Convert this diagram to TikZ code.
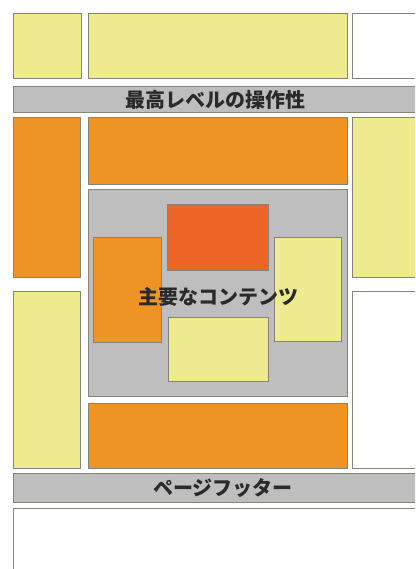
\documentclass[tikz,border=0pt]{standalone}
\usepackage{fontspec}
\newfontfamily\cjk{Noto Sans CJK JP}
\definecolor{yel}{HTML}{EEEA8E}
\definecolor{org}{HTML}{EE9424}
\definecolor{red}{HTML}{EC6426}
\definecolor{gry}{HTML}{BEBEBE}
\definecolor{edge}{HTML}{86847A}
\definecolor{txt}{HTML}{2A2A2A}
\tikzset{
  box/.style={draw=edge, line width=1pt},
  lbl/.style={text=txt, font=\cjk\bfseries\fontsize{20}{20}\selectfont, inner sep=0pt}
}
\begin{document}
\begin{tikzpicture}[x=1pt,y=-1pt]
\useasboundingbox (0,0) rectangle (415,569);
\clip (0,0) rectangle (415,569);
\fill[white] (0,0) rectangle (415,569);
% top row
\draw[box, fill=yel] (13.5,14) rectangle (81.5,79);
\draw[box, fill=yel] (88.5,14) rectangle (347,79);
\draw[box, fill=white] (352,14) rectangle (420,79);
% header
\draw[box, fill=gry] (13.5,86.5) rectangle (420,113);
\node[lbl] (hdr) at (215,100) {最高レベルの操作性};
% second row
\draw[box, fill=org] (13.5,118) rectangle (80.5,277);
\draw[box, fill=org] (88,118) rectangle (347,185);
\draw[box, fill=yel] (352,118) rectangle (420,277);
% main content area
\draw[box, fill=gry] (88,190) rectangle (347,396);
\draw[box, fill=red] (167,204) rectangle (268,270);
\draw[box, fill=org] (93.5,237) rectangle (161,342);
\draw[box, fill=yel] (274.5,237) rectangle (341,341);
\draw[box, fill=yel] (168,317) rectangle (268,381);
\node[lbl] (main) at (218,297) {主要なコンテンツ};
% third row
\draw[box, fill=yel] (13.5,291) rectangle (80.5,468);
\draw[box, fill=org] (88,403) rectangle (347,468);
\draw[box, fill=white] (352,291) rectangle (420,468);
% footer
\draw[box, fill=gry] (13.5,473) rectangle (420,502.5);
\node[lbl] (ftr) at (223,488) {ページフッター};
% bottom area
\draw[box, fill=white] (13.5,508) rectangle (420,580);
\end{tikzpicture}
\end{document}
